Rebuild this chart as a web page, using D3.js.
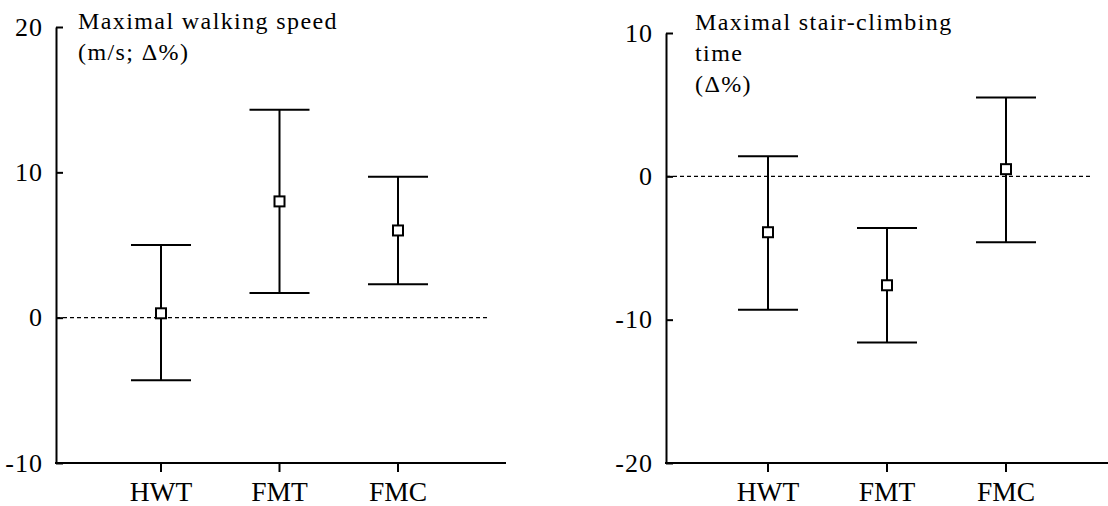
<!DOCTYPE html>
<meta charset="utf-8">
<style>
body { margin: 0; background: #fff; }
text { font-family: 'Liberation Serif', serif; fill: #000; }
.axis text { font-size: 26px; letter-spacing: 1px; }
.axis .xlab { font-size: 27.5px; letter-spacing: 0; }
.axis path, .axis line { stroke: #000; stroke-width: 2px; }
.title { font-size: 24px; letter-spacing: 1.4px; }
.bar { stroke: #000; stroke-width: 2px; fill: none; }
.marker { stroke: #000; stroke-width: 2px; fill: #fff; }
.zero { stroke: #000; stroke-width: 1.3px; stroke-dasharray: 4,3; }
</style>
<body>
<script src="https://d3js.org/d3.v7.min.js"></script>
<script>

const groups = ["HWT", "FMT", "FMC"];

// maximal walking speed (m/s; delta %)
const walkMean = [0.3, 8.0, 6.0],
      walkLow  = [-4.3, 1.7, 2.3],
      walkHigh = [5.0, 14.3, 9.7];

// maximal stair-climbing time (delta %)
const stairMean = [-3.9, -7.6, 0.5],
      stairLow  = [-9.3, -11.6, -4.6],
      stairHigh = [1.4, -3.6, 5.5];

const walkTicks = [-10, 0, 10, 20],
      stairTicks = [-20, -10, 0, 10];

const walkTitle = ["Maximal walking speed", "(m/s; \u0394%)"],
      stairTitle = ["Maximal stair-climbing", "time", "(\u0394%)"];

const width = 1108, height = 506;

let svg = d3.select("body").append("svg")
    .attr("width", width)
    .attr("height", height);

function panel(opt) {
    const x = d3.scalePoint().domain(groups).range(opt.xr),
          y = d3.scaleLinear().domain(opt.domain).range([463, opt.top]);

    const g = svg.append("g");

    // dashed zero line
    g.append("line")
        .attr("class", "zero")
        .attr("x1", opt.left).attr("x2", opt.dashEnd)
        .attr("y1", y(0)).attr("y2", y(0));

    // y axis, plain hyphen for negatives
    g.append("g")
        .attr("class", "axis")
        .attr("transform", `translate(${opt.left},0)`)
        .call(d3.axisLeft(y).tickValues(opt.ticks).tickFormat(d => String(d))
            .tickSize(-7).tickSizeOuter(0).tickPadding(13));

    // x axis
    const xa = g.append("g")
        .attr("class", "axis")
        .attr("transform", `translate(0,463)`);
    xa.append("line")
        .attr("x1", opt.left - 1).attr("x2", opt.right)
        .attr("y1", 0).attr("y2", 0);
    const t = xa.selectAll("g.tk").data(groups).join("g")
        .attr("class", "tk")
        .attr("transform", d => `translate(${x(d)},0)`);
    t.append("line").attr("y2", 9);
    t.append("text")
        .attr("class", "xlab")
        .attr("y", 38)
        .attr("text-anchor", "middle")
        .text(d => d);

    // error bars
    const rows = groups.map((d, i) => ({ k: d, m: opt.mean[i], lo: opt.low[i], hi: opt.high[i] }));
    const b = g.selectAll("g.eb").data(rows).join("g")
        .attr("class", "eb")
        .attr("transform", d => `translate(${x(d.k)},0)`);
    b.append("path")
        .attr("class", "bar")
        .attr("d", d => `M-30,${y(d.hi)}H30M0,${y(d.hi)}V${y(d.lo)}M-30,${y(d.lo)}H30`);
    b.append("rect")
        .attr("class", "marker")
        .attr("x", -5).attr("y", d => y(d.m) - 5)
        .attr("width", 10).attr("height", 10);

    // title
    g.append("text")
        .attr("class", "title")
        .selectAll("tspan")
        .data(opt.title)
        .join("tspan")
            .attr("x", opt.titleX)
            .attr("y", (d, i) => opt.titleY + i * 31)
            .text(d => d);
}

panel({
    xr: [161, 398], left: 56, right: 506, dashEnd: 490, top: 27,
    domain: [-10, 20], ticks: walkTicks,
    mean: walkMean, low: walkLow, high: walkHigh,
    title: walkTitle, titleX: 78, titleY: 29
});

panel({
    xr: [768, 1006], left: 666, right: 1108, dashEnd: 1090, top: 33,
    domain: [-20, 10], ticks: stairTicks,
    mean: stairMean, low: stairLow, high: stairHigh,
    title: stairTitle, titleX: 695, titleY: 30
});

</script>
